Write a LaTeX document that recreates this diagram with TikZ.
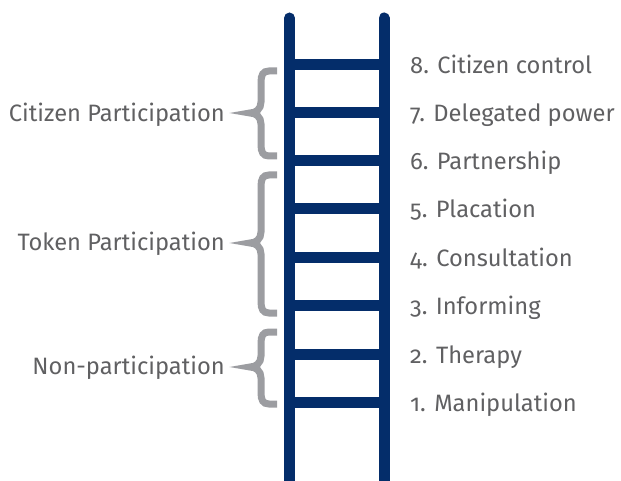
\documentclass[tikz,border=0pt]{standalone}
\usepackage{fontspec}
\setmainfont[Numbers=OldStyle]{Fira Sans}
\definecolor{laddernavy}{RGB}{4,45,106}
\definecolor{bracegray}{RGB}{156,157,161}
\definecolor{labelgray}{RGB}{96,96,98}
\tikzset{
  rail/.style={draw=laddernavy, line width=11pt, line cap=round},
  rung/.style={draw=laddernavy, line width=11pt},
  bracestroke/.style={draw=bracegray, line width=7pt},
  steplabel/.style={anchor=base west, inner sep=0pt, text=labelgray, font=\fontsize{23.7}{28}\selectfont},
  grouplabel/.style={anchor=base east, inner sep=0pt, text=labelgray, font=\fontsize{23.7}{28}\selectfont},
}
\newcommand\ladderbrace[3]{%
  \draw[bracestroke] (277,#1) -- (269,#1) .. controls (263,#1) and (261,#1+4) .. (261,#1+11)
    -- (261,#2-11) .. controls (261,#2-4) and (256,#2) .. (250,#2)
    .. controls (256,#2) and (261,#2+4) .. (261,#2+11)
    -- (261,#3-11) .. controls (261,#3-4) and (263,#3) .. (269,#3) -- (277,#3);}
\begin{document}
\begin{tikzpicture}[x=1pt,y=-1pt]
\useasboundingbox (0,0) rectangle (621,481);
% rails
\coordinate (LT) at (289.5,18);
\coordinate (LB) at (289.5,500);
\coordinate (RT) at (384,18);
\coordinate (RB) at (384,500);
\draw[rail] (LT) -- (LB);
\draw[rail] (RT) -- (RB);
% rungs and labels
\foreach \y/\n/\t in {65/8/Citizen control,113/7/Delegated power,161/6/Partnership,209/5/Placation,257/4/Consultation,305/3/Informing,354/2/Therapy,402.5/1/Manipulation}{
  \coordinate (a\n) at (289.5,\y);
  \coordinate (b\n) at (384,\y);
  \draw[rung] (a\n) -- (b\n);
  \node[steplabel] (s\n) at (410,\y+9) {\n. \t};
}
% braces
\ladderbrace{71}{113}{156}
\ladderbrace{175}{243}{313}
\ladderbrace{332}{367}{404}
\node[grouplabel] (gc) at (225,122) {Citizen Participation};
\node[grouplabel] (gt) at (225,251) {Token Participation};
\node[grouplabel] (gn) at (225,374) {Non-participation};
\end{tikzpicture}
\end{document}
